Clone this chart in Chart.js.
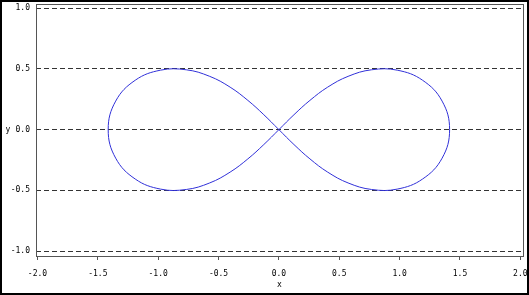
<!DOCTYPE html>
<html>
<head>
<meta charset="utf-8">
<script src="https://cdn.jsdelivr.net/npm/chart.js@4"></script>
<style>
  html, body { margin: 0; padding: 0; background: #fff; }
  #wrap { width: 529px; height: 295px; }
</style>
</head>
<body>
<div id="wrap"><canvas id="curve" width="529" height="295"></canvas></div>
<script>
// curve points (figure-eight, traced from the crossing)
const xVals = [0, -0.125, -0.257, -0.404, -0.573, -0.767, -0.980, -1.190, -1.352, -1.414,
  -1.352, -1.190, -0.980, -0.767, -0.573, -0.404, -0.257, -0.125, 0,
  0.125, 0.257, 0.404, 0.573, 0.767, 0.980, 1.190, 1.352, 1.414,
  1.352, 1.190, 0.980, 0.767, 0.573, 0.404, 0.257, 0.125, 0];
const yVals = [0, -0.123, -0.241, -0.350, -0.439, -0.493, -0.490, -0.407, -0.235, 0,
  0.235, 0.407, 0.490, 0.493, 0.439, 0.350, 0.241, 0.123, 0,
  -0.123, -0.241, -0.350, -0.439, -0.493, -0.490, -0.407, -0.235, 0,
  0.235, 0.407, 0.490, 0.493, 0.439, 0.350, 0.241, 0.123, 0];
const xTicks = [-2.0, -1.5, -1.0, -0.5, 0.0, 0.5, 1.0, 1.5, 2.0];
const yTicks = [-1.0, -0.5, 0.0, 0.5, 1.0];
const xLabel = 'x';
const yLabel = 'y';

const tickFont = { family: 'DejaVu Sans Mono', size: 8 };

// frame around the plot and the outer picture border, plus axis letters
const framePlugin = {
    id: 'frame',
    afterDraw(chart) {
        const { ctx, chartArea: a } = chart;
        ctx.save();
        ctx.strokeStyle = '#555';
        ctx.lineWidth = 1;
        ctx.strokeRect(a.left + 0.5, a.top + 0.5, a.right - a.left, a.bottom - a.top);
        ctx.strokeStyle = '#000';
        ctx.lineWidth = 2;
        ctx.strokeRect(1, 1, chart.width - 2, chart.height - 2);
        ctx.fillStyle = '#000';
        ctx.font = '8px "DejaVu Sans Mono"';
        ctx.textAlign = 'center';
        ctx.textBaseline = 'middle';
        ctx.fillText(xLabel, (a.left + a.right) / 2, 285);
        const y0 = chart.scales.y.getPixelForValue(0);
        ctx.fillText(yLabel, 8, y0);
        ctx.restore();
    }
};

new Chart(document.getElementById('curve'), {
    type: 'scatter',
    data: {
        datasets: [{
            data: xVals.map((x, i) => ({ x, y: yVals[i] })),
            showLine: true,
            borderColor: '#3030d8',
            borderWidth: 1,
            pointRadius: 0,
            tension: 0.4,
            fill: false
        }]
    },
    options: {
        responsive: false,
        animation: false,
        layout: { padding: { left: 0, top: 4, right: 6, bottom: 0 } },
        plugins: { legend: { display: false }, tooltip: { enabled: false } },
        scales: {
            x: {
                type: 'linear',
                min: -2.012, max: 2.022,
                afterBuildTicks: s => { s.ticks = xTicks.map(v => ({ value: v })); },
                afterFit: s => { s.height = 39; s.paddingLeft = 0; s.paddingRight = 0; },
                border: { display: false },
                grid: { drawOnChartArea: false, color: '#555', tickLength: 4 },
                ticks: {
                    color: '#000', font: tickFont, padding: 9, maxRotation: 0,
                    callback: v => v.toFixed(1)
                }
            },
            y: {
                type: 'linear',
                min: -1.041, max: 1.035,
                afterBuildTicks: s => { s.ticks = yTicks.map(v => ({ value: v })); },
                afterFit: s => { s.width = 36; s.paddingTop = 0; s.paddingBottom = 0; },
                border: { display: false, dash: [5, 3] },
                grid: { color: '#333', drawTicks: false },
                ticks: {
                    color: '#000', font: tickFont, padding: 6,
                    callback: v => v.toFixed(1)
                }
            }
        }
    },
    plugins: [framePlugin]
});
</script>
</body>
</html>
